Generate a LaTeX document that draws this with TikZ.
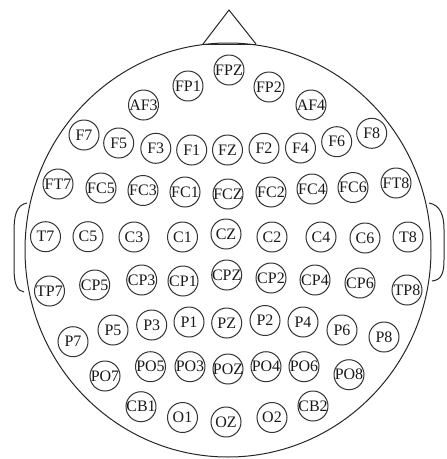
\documentclass[tikz,border=0pt]{standalone}
\usepackage{fontspec}
\setmainfont{Liberation Serif}
\usetikzlibrary{shapes.geometric}

\tikzset{
  el/.style={circle, draw=black!80, line width=1pt, minimum size=30pt, inner sep=-2pt,
    font=\fontsize{16}{16}\selectfont, text=black!90},
  head/.style={line width=1pt, draw=black!85}
}

\begin{document}
\begin{tikzpicture}[x=1pt,y=-1pt]
        \useasboundingbox (0,0) rectangle (447,459);

        % head outline, nose and ears
        \coordinate (C) at (228,250); % centre of the head
        \draw[head] (C) ellipse [x radius=203, y radius=207];
        \draw[head] (203,44) -- (229,10) -- (256,44);
        \draw[head] (203,44) -- (256,44);
        \draw[head] (27,203) .. controls (16,205) and (14,216) .. (14,232)
                   -- (14,268) .. controls (14,284) and (17,291) .. (24,292);
        \draw[head] (429,203) .. controls (440,205) and (444,215) .. (444,229)
                   -- (444,260) .. controls (444,274) and (441,280) .. (432,281);

        % FP and AF
        \node[el] (FP1) at (188,86) {FP1};
        \node[el] (FPZ) at (229,70) {FPZ};
        \node[el] (FP2) at (269,87) {FP2};
        \node[el] (AF3) at (143.5,105) {AF3};
        \node[el] (AF4) at (311,105) {AF4};

        % F row
        \node[el] (F7) at (84,135) {F7};
        \node[el] (F5) at (118.7,143) {F5};
        \node[el] (F3) at (155.8,148.3) {F3};
        \node[el] (F1) at (191.7,150) {F1};
        \node[el] (FZ) at (227.5,150) {FZ};
        \node[el] (F2) at (264,148.3) {F2};
        \node[el] (F4) at (300.5,148) {F4};
        \node[el] (F6) at (336.7,141.7) {F6};
        \node[el] (F8) at (371.7,133.3) {F8};

        % FC row
        \node[el] (FT7) at (58,184) {FT7};
        \node[el] (FC5) at (101,188) {FC5};
        \node[el] (FC3) at (143,190.5) {FC3};
        \node[el] (FC1) at (185,192) {FC1};
        \node[el] (FCZ) at (228,194) {FCZ};
        \node[el] (FC2) at (271,192) {FC2};
        \node[el] (FC4) at (312,189) {FC4};
        \node[el] (FC6) at (353,187.5) {FC6};
        \node[el] (FT8) at (396,183) {FT8};

        % C row
        \node[el] (T7) at (45.5,236.7) {T7};
        \node[el] (C5) at (88,236.7) {C5};
        \node[el] (C3) at (134,237) {C3};
        \node[el] (C1) at (182.5,237) {C1};
        \node[el] (CZ) at (226,234) {CZ};
        \node[el] (C2) at (272,237) {C2};
        \node[el] (C4) at (321,237) {C4};
        \node[el] (C6) at (365,238) {C6};
        \node[el] (T8) at (408,237) {T8};

        % CP row
        \node[el] (TP7) at (49.5,291) {TP7};
        \node[el] (CP5) at (94.7,285) {CP5};
        \node[el] (CP3) at (141.7,280) {CP3};
        \node[el] (CP1) at (183,281) {CP1};
        \node[el] (CPZ) at (226.7,275) {CPZ};
        \node[el] (CP2) at (271,278) {CP2};
        \node[el] (CP4) at (315,280) {CP4};
        \node[el] (CP6) at (360,283) {CP6};
        \node[el] (TP8) at (407,290) {TP8};

        % P row
        \node[el] (P7) at (73,341.7) {P7};
        \node[el] (P5) at (113,330) {P5};
        \node[el] (P3) at (151.7,325) {P3};
        \node[el] (P1) at (189,322) {P1};
        \node[el] (PZ) at (226.7,323) {PZ};
        \node[el] (P2) at (265,320.5) {P2};
        \node[el] (P4) at (303,322) {P4};
        \node[el] (P6) at (342,330) {P6};
        \node[el] (P8) at (384,337) {P8};

        % PO row
        \node[el] (PO7) at (105,376) {PO7};
        \node[el] (PO5) at (150.5,366.7) {PO5};
        \node[el] (PO3) at (190,366.7) {PO3};
        \node[el] (POZ) at (228,369) {POZ};
        \node[el] (PO4) at (266,366.7) {PO4};
        \node[el] (PO6) at (304,366.7) {PO6};
        \node[el] (PO8) at (349,374.7) {PO8};

        % O and CB
        \node[el] (CB1) at (141,406.7) {CB1};
        \node[el] (O1) at (182.5,417.5) {O1};
        \node[el] (OZ) at (226,422) {OZ};
        \node[el] (O2) at (272,417.5) {O2};
        \node[el] (CB2) at (313,406) {CB2};

    \end{tikzpicture}
\end{document}
